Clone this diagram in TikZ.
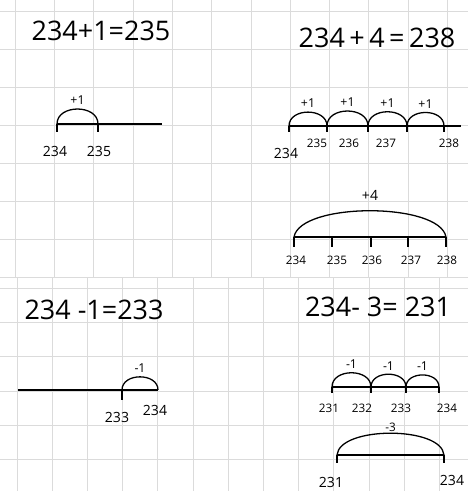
\documentclass[tikz,border=0pt]{standalone}
\usepackage{fontspec}
\setmainfont{Open Sans}
\usetikzlibrary{positioning}

\begin{document}
\begin{tikzpicture}[%
        x=0.03cm, y=0.03cm,
        gridline/.style={gray!28, line width=0.5pt},
        numline/.style={line width=1.3pt, black},
        tickline/.style={line width=1.1pt, black},
        arcline/.style={line width=1.1pt, black},
        hop/.style={out=90, in=90, looseness=1.25},
        eqn/.style={font=\fontsize{23}{26}\selectfont, inner sep=0pt},
        lbl/.style={font=\fontsize{12}{14}\selectfont, inner sep=0pt},
        smalllbl/.style={font=\fontsize{10}{12}\selectfont, inner sep=0pt},
        jumplbl/.style={midway, above=3pt, font=\fontsize{10.5}{12}\selectfont, inner sep=0pt}%
    ]
        \useasboundingbox (0,0) rectangle (468,-491);

        % squared paper, top sheet
        \foreach \k in {0,...,11}
            \draw[gridline] ({15+39.3*\k},0) -- ({15+39.3*\k},-277);
        \foreach \k in {0,...,7}
            \draw[gridline] (0,{-11-38*\k}) -- (468,{-11-38*\k});
        % squared paper, bottom sheet
        \foreach \k in {0,...,12}
            \draw[gridline] ({16.8+35.2*\k},-277) -- ({16.8+35.2*\k},-491);
        \foreach \k in {0,...,5}
            \draw[gridline] (0,{-288-34.3*\k}) -- (468,{-288-34.3*\k});

        % 234 + 1
        \node[eqn] (eq1) at (101,-31) {234+1=235};
        \coordinate (a0) at (57,-124);
        \coordinate (a1) at (98,-124);
        \coordinate (aend) at (162,-124);
        \draw[numline] (a0) -- (aend);
        \foreach \p in {a0,a1}
            \draw[tickline] (\p) -- ++(0,-8);
        \draw[arcline] (a0) to[hop] node[jumplbl] {+1} (a1);
        \node[lbl] (a0lbl) at (55,-151) {234};
        \node[lbl] (a1lbl) at (99,-151) {235};

        % 234 + 4, in ones
        \node[eqn] (eq2) at (377,-38) {234\,+\,4\,=\,238};
        \coordinate (b0) at (289,-126);
        \coordinate (b1) at (327,-126);
        \coordinate (b2) at (368,-126);
        \coordinate (b3) at (407,-126);
        \coordinate (b4) at (444,-126);
        \coordinate (bend) at (461,-126);
        \draw[numline] (b0) -- (bend);
        \foreach \p in {b0,b1,b2,b3,b4}
            \draw[tickline] (\p) -- ++(0,-6);
        \draw[arcline] (b0) to[hop] node[jumplbl] {+1} (b1);
        \draw[arcline] (b1) to[hop] node[jumplbl] {+1} (b2);
        \draw[arcline] (b2) to[hop] node[jumplbl] {+1} (b3);
        \draw[arcline] (b3) to[hop] node[jumplbl] {+1} (b4);
        \node[lbl] (b0lbl) at (286,-153) {234};
        \node[smalllbl] (b1lbl) at (317,-143) {235};
        \node[smalllbl] (b2lbl) at (349,-143) {236};
        \node[smalllbl] (b3lbl) at (386,-143) {237};
        \node[smalllbl] (b4lbl) at (449,-143) {238};

        % 234 + 4, in one jump
        \coordinate (c0) at (294,-237);
        \coordinate (c1) at (332,-237);
        \coordinate (c2) at (371,-237);
        \coordinate (c3) at (408,-237);
        \coordinate (c4) at (446,-237);
        \draw[numline] (c0) -- (c4);
        \foreach \p in {c0,c1,c2,c3,c4}
            \draw[tickline] (\p) -- ++(0,-10);
        \draw[arcline] (c0) to[out=80, in=100, looseness=0.6] node[midway, above=8pt, lbl] {+4} (c4);
        \node[smalllbl] (c0lbl) at (296,-260) {234};
        \node[smalllbl] (c1lbl) at (337,-260) {235};
        \node[smalllbl] (c2lbl) at (372,-260) {236};
        \node[smalllbl] (c3lbl) at (411,-260) {237};
        \node[smalllbl] (c4lbl) at (447,-260) {238};

        % 234 - 1
        \node[eqn] (eq3) at (94,-310) {234 -1=233};
        \coordinate (dstart) at (18,-390);
        \coordinate (d1) at (122,-390);
        \coordinate (d2) at (158,-390);
        \draw[numline] (dstart) -- (d2);
        \draw[tickline] (d1) -- ++(0,-10);
        \draw[arcline] (d1) to[hop] node[jumplbl] {-1} (d2);
        \node[lbl] (d1lbl) at (117,-417) {233};
        \node[lbl] (d2lbl) at (155,-410) {234};

        % 234 - 3, in ones
        \node[eqn] (eq4) at (378,-307) {234- 3= 231};
        \coordinate (e0) at (332,-387);
        \coordinate (e1) at (371,-387);
        \coordinate (e2) at (406,-387);
        \coordinate (e3) at (439,-387);
        \draw[numline] (e0) -- (e3);
        \foreach \p in {e0,e1,e2,e3}
            \draw[tickline] (\p) -- ++(0,-6);
        \draw[arcline] (e0) to[hop] node[jumplbl] {-1} (e1);
        \draw[arcline] (e1) to[hop] node[jumplbl] {-1} (e2);
        \draw[arcline] (e2) to[hop] node[jumplbl] {-1} (e3);
        \node[smalllbl] (e0lbl) at (329,-408) {231};
        \node[smalllbl] (e1lbl) at (362,-408) {232};
        \node[smalllbl] (e2lbl) at (401,-408) {233};
        \node[smalllbl] (e3lbl) at (447,-408) {234};

        % 234 - 3, in one jump
        \coordinate (f0) at (337,-455);
        \coordinate (f1) at (444,-455);
        \draw[numline] (f0) -- (f1);
        \draw[tickline] (f0) -- ++(0,-8);
        \draw[tickline] (f1) -- ++(0,-8);
        \draw[arcline] (f0) to[out=85, in=95, looseness=0.7] node[midway, above=1pt, smalllbl] {-3} (f1);
        \node[lbl] (f0lbl) at (331,-482) {231};
        \node[lbl] (f1lbl) at (452,-480) {234};
    \end{tikzpicture}
\end{document}
